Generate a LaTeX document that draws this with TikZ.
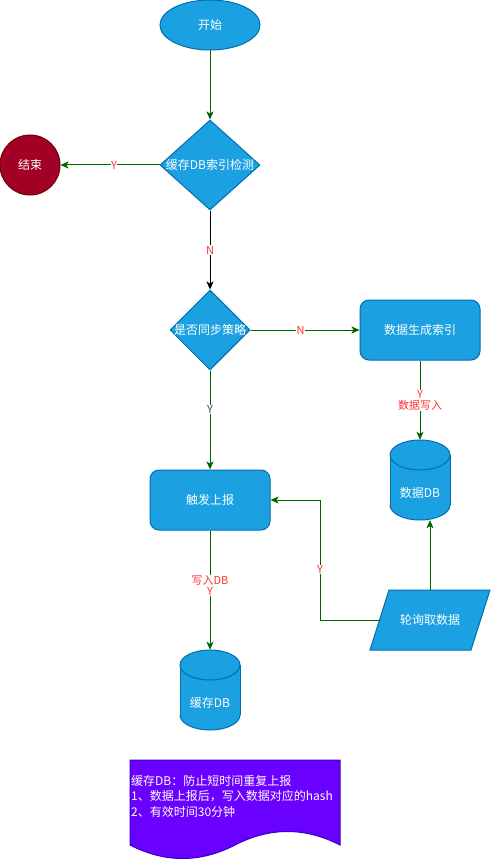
\documentclass[tikz,border=0pt]{standalone}
\usepackage{fontspec}
\setmainfont{Noto Sans CJK SC}
\usetikzlibrary{arrows.meta,shapes.geometric}
\definecolor{bfill}{HTML}{1BA1E2}
\definecolor{bline}{HTML}{006EAF}
\definecolor{rfill}{HTML}{A20025}
\definecolor{rline}{HTML}{6F0000}
\definecolor{pfill}{HTML}{6A00FF}
\definecolor{pline}{HTML}{3700CC}
\definecolor{eline}{HTML}{006600}
\definecolor{lred}{HTML}{FF3333}
\definecolor{lgray}{HTML}{4D4D4D}
\newcommand\dbcyl[2]{%
  \fill[bfill] (#1-30,#2-25) rectangle (#1+30,#2+25);
  \fill[bfill] (#1,#2+25) ellipse[x radius=30,y radius=15];
  \begin{scope}
    \clip (#1-32,#2+25) rectangle (#1+32,#2+42);
    \draw[bline,line width=1pt] (#1,#2+25) ellipse[x radius=30,y radius=15];
  \end{scope}
  \draw[bline,line width=1pt] (#1-30,#2-25) -- (#1-30,#2+25) (#1+30,#2-25) -- (#1+30,#2+25);
  \fill[bfill,draw=bline,line width=1pt] (#1,#2-25) ellipse[x radius=30,y radius=15];
}
\begin{document}
\begin{tikzpicture}[x=1pt,y=-1pt,
  font=\fontsize{12}{14}\selectfont,
  shapebox/.style={fill=bfill,draw=bline,text=white,line width=1pt,inner sep=0pt},
  flow/.style={draw=eline,line width=1pt,-{Stealth[length=8pt,width=7pt,inset=2pt]}},
  lbl/.style={fill=white,text=lred,font=\fontsize{11}{11}\selectfont,inner sep=0.5pt,align=center},
  whitetext/.style={text=white,inner sep=0pt},
]
\fill[white] (0,0) rectangle (491,861);
\useasboundingbox (0,0) rectangle (491,861);

% shapes
\node[shapebox,ellipse,minimum width=100pt,minimum height=50pt] (start) at (210,25) {开始};
\node[shapebox,diamond,minimum width=100pt,minimum height=90pt] (chk) at (210,165) {};
\node[whitetext] at (chk.center) {缓存DB索引检测};
\node[circle,fill=rfill,draw=rline,line width=1pt,minimum size=60pt,inner sep=0pt,text=white] (end) at (30,165) {结束};
\node[shapebox,diamond,minimum width=80pt,minimum height=80pt] (sync) at (210,330) {};
\node[whitetext] at (sync.center) {是否同步策略};
\node[shapebox,rounded corners=9pt,minimum width=120pt,minimum height=60pt] (idx) at (420,330) {数据生成索引};
\node[shapebox,rounded corners=9pt,minimum width=120pt,minimum height=60pt] (trig) at (210,500) {触发上报};

% data DB cylinder
\dbcyl{420}{480}
\node[minimum width=60pt,minimum height=80pt,inner sep=0pt] (dataDB) at (420,480) {};
\node[whitetext] at (420,493) {数据DB};

% cache DB cylinder
\dbcyl{210}{690}
\node[minimum width=60pt,minimum height=80pt,inner sep=0pt] (cacheDB) at (210,690) {};
\node[whitetext] at (210,703) {缓存DB};

% polling parallelogram
\fill[bfill,draw=bline,line width=1pt] (389,590) -- (490,590) -- (471,650) -- (370,650) -- cycle;
\node[minimum width=100pt,minimum height=60pt,inner sep=0pt] (poll) at (430,620) {};
\node[whitetext] at (poll.center) {轮询取数据};
\coordinate (pollL) at (379.5,620);
\coordinate (bend) at (320,620);

% note (document shape)
\fill[pfill,draw=pline,line width=1pt] (130,760) -- (340,760) -- (340,845)
  .. controls (305,827) and (270,827) .. (235,845)
  .. controls (200,863) and (165,863) .. (130,845) -- cycle;
\node[text=white,anchor=west,align=left,inner sep=0pt,font=\fontsize{12}{15.5}\selectfont] (note) at (131,796)
  {缓存DB：防止短时间重复上报\\1、数据上报后，写入数据对应的hash\\2、有效时间30分钟};

% connectors
\draw[flow] (start) -- (chk);
\draw[flow] (chk) -- node[lbl,pos=0.46]{Y} (end);
\draw[flow,draw=black] (chk) -- node[lbl]{N} (sync);
\draw[flow] (sync) -- node[lbl,pos=0.46]{N} (idx);
\draw[flow] (sync) -- node[lbl,text=lgray,pos=0.39]{Y} (trig);
\draw[flow] (idx) -- node[lbl]{Y\\数据写入} (dataDB);
\draw[flow] (trig) -- node[lbl,pos=0.46]{写入DB\\Y} (cacheDB);
\draw[flow] (pollL) -- (bend) |- node[lbl,pos=0.21]{Y} (trig.east);
\draw[flow] (poll.north) -- (poll.north |- dataDB.south);
\end{tikzpicture}
\end{document}
